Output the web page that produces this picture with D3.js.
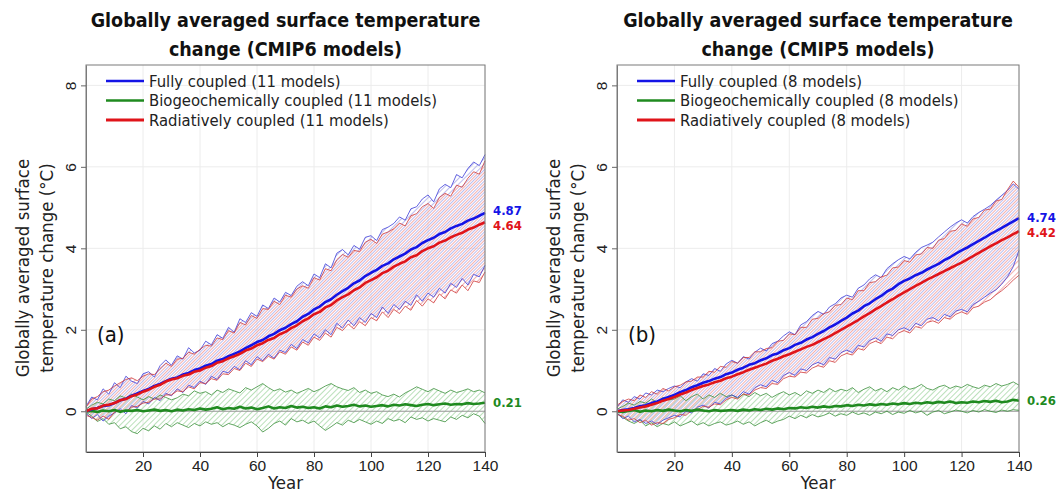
<!DOCTYPE html>
<html><head><meta charset="utf-8">
<script src="https://cdn.jsdelivr.net/npm/d3@7"></script>
<style>
body{margin:0;background:#fff;}
svg{display:block;font-family:"DejaVu Sans Condensed","DejaVu Sans",sans-serif;font-stretch:condensed;}
</style></head><body>
<svg id="c" width="1059" height="495"></svg>
<script>
// ---------------- DATA ----------------
const years = [0,2,4,6,8,10,12,14,16,18,20,22,24,26,28,30,32,34,36,38,40,42,44,46,48,50,52,54,56,58,60,62,64,66,68,70,72,74,76,78,80,82,84,86,88,90,92,94,96,98,100,102,104,106,108,110,112,114,116,118,120,122,124,126,128,130,132,134,136,138,140];
const xTicks = [20,40,60,80,100,120,140];
const yTicks = [0,2,4,6,8];
const seriesNames = ["Fully coupled","Biogeochemically coupled","Radiatively coupled"];
const modelCounts = [11, 8];
const panelTitles = [["Globally averaged surface temperature","change (CMIP6 models)"],["Globally averaged surface temperature","change (CMIP5 models)"]];
const panelTags = ["(a)","(b)"];

// CMIP6
const c6BlueMean = [0.00,0.05,0.08,0.13,0.15,0.20,0.27,0.31,0.38,0.44,0.50,0.55,0.62,0.67,0.74,0.80,0.83,0.90,0.94,1.01,1.05,1.12,1.16,1.24,1.28,1.35,1.41,1.47,1.55,1.62,1.70,1.75,1.84,1.90,1.99,2.05,2.14,2.21,2.32,2.39,2.50,2.57,2.68,2.75,2.86,2.95,3.03,3.14,3.21,3.32,3.40,3.47,3.57,3.63,3.73,3.80,3.87,3.97,4.03,4.13,4.20,4.26,4.35,4.40,4.49,4.55,4.60,4.68,4.73,4.80,4.87];
const c6BlueMax = [0.12,0.35,0.28,0.55,0.42,0.70,0.58,0.86,0.74,0.68,0.92,0.97,0.84,1.12,1.26,1.13,1.36,1.28,1.56,1.43,1.50,1.72,1.63,1.88,1.79,2.06,1.94,2.27,2.18,2.42,2.33,2.61,2.52,2.78,2.68,2.92,2.84,3.07,3.18,3.08,3.37,3.28,3.62,3.52,3.88,3.97,3.84,4.07,3.98,4.27,4.31,4.19,4.46,4.52,4.61,4.77,4.69,4.97,5.02,5.21,5.31,5.14,5.46,5.57,5.49,5.81,5.73,5.96,6.12,6.03,6.30];
const c6BlueMin = [-0.05,-0.18,-0.08,-0.24,-0.12,-0.04,0.06,-0.06,0.14,0.08,0.24,0.18,0.34,0.26,0.44,0.38,0.55,0.46,0.64,0.58,0.74,0.66,0.86,0.78,0.98,0.94,1.10,1.02,1.24,1.14,1.34,1.24,1.40,1.30,1.50,1.44,1.64,1.54,1.76,1.68,1.90,1.80,2.00,1.88,2.16,2.04,2.24,2.10,2.30,2.18,2.40,2.30,2.56,2.40,2.62,2.50,2.70,2.60,2.86,2.70,2.90,2.80,3.02,2.90,3.14,3.04,3.26,3.10,3.36,3.30,3.58];
const c6RedMean = [0.00,0.06,0.07,0.14,0.16,0.20,0.27,0.30,0.37,0.41,0.48,0.53,0.60,0.65,0.73,0.78,0.81,0.87,0.90,0.97,1.00,1.07,1.11,1.19,1.23,1.30,1.35,1.41,1.49,1.54,1.62,1.67,1.75,1.80,1.89,1.95,2.04,2.11,2.21,2.28,2.38,2.44,2.55,2.61,2.72,2.80,2.87,2.97,3.04,3.15,3.22,3.29,3.39,3.45,3.55,3.62,3.68,3.78,3.83,3.93,4.00,4.05,4.14,4.19,4.27,4.33,4.38,4.46,4.51,4.58,4.64];
const c6RedMax = [0.10,0.30,0.36,0.48,0.52,0.62,0.70,0.78,0.82,0.75,0.86,0.92,0.90,1.05,1.18,1.10,1.28,1.30,1.45,1.40,1.52,1.62,1.60,1.80,1.76,1.98,1.92,2.18,2.12,2.35,2.28,2.52,2.50,2.70,2.62,2.85,2.80,3.00,3.08,3.02,3.28,3.22,3.50,3.45,3.72,3.85,3.78,3.95,3.92,4.15,4.22,4.12,4.35,4.40,4.48,4.62,4.55,4.80,4.85,5.02,5.10,4.98,5.25,5.35,5.28,5.55,5.50,5.72,5.88,5.82,6.15];
const c6RedMin = [-0.10,-0.15,-0.22,-0.12,-0.20,-0.02,0.02,0.00,0.10,0.12,0.20,0.22,0.30,0.30,0.40,0.40,0.50,0.48,0.60,0.55,0.70,0.68,0.80,0.76,0.92,0.90,1.05,1.00,1.18,1.10,1.28,1.22,1.35,1.28,1.46,1.40,1.58,1.50,1.70,1.62,1.82,1.74,1.92,1.82,2.06,1.98,2.14,2.02,2.20,2.10,2.30,2.22,2.44,2.30,2.50,2.40,2.58,2.48,2.72,2.58,2.76,2.66,2.88,2.76,2.98,2.90,3.10,2.96,3.20,3.16,3.42];
const c6GreenMean = [0.00,0.01,-0.02,0.02,0.00,0.03,-0.01,0.02,0.01,0.03,0.00,0.02,0.04,0.01,0.03,0.00,0.04,0.02,0.05,0.03,0.07,0.04,0.06,0.10,0.05,0.08,0.06,0.11,0.07,0.09,0.05,0.08,0.12,0.07,0.10,0.08,0.13,0.09,0.11,0.08,0.10,0.07,0.12,0.10,0.14,0.11,0.13,0.16,0.12,0.14,0.11,0.13,0.15,0.12,0.16,0.14,0.17,0.15,0.13,0.16,0.18,0.15,0.17,0.19,0.16,0.18,0.17,0.20,0.18,0.19,0.21];
const c6GreenMax = [0.05,0.15,0.22,0.18,0.30,0.26,0.38,0.32,0.42,0.35,0.28,0.36,0.30,0.40,0.34,0.28,0.33,0.42,0.38,0.50,0.44,0.48,0.40,0.52,0.46,0.55,0.50,0.45,0.58,0.52,0.60,0.68,0.58,0.50,0.55,0.47,0.52,0.44,0.50,0.56,0.48,0.54,0.62,0.68,0.60,0.55,0.51,0.58,0.46,0.52,0.44,0.48,0.40,0.36,0.42,0.35,0.45,0.52,0.60,0.54,0.48,0.56,0.50,0.44,0.52,0.46,0.50,0.55,0.48,0.52,0.45];
const c6GreenMin = [-0.02,-0.12,-0.25,-0.18,-0.32,-0.28,-0.43,-0.38,-0.50,-0.55,-0.42,-0.48,-0.36,-0.44,-0.30,-0.38,-0.28,-0.34,-0.40,-0.30,-0.36,-0.26,-0.32,-0.28,-0.38,-0.30,-0.34,-0.40,-0.32,-0.26,-0.36,-0.51,-0.42,-0.30,-0.24,-0.34,-0.18,-0.26,-0.22,-0.30,-0.24,-0.36,-0.47,-0.38,-0.28,-0.34,-0.22,-0.28,-0.20,-0.26,-0.32,-0.24,-0.30,-0.18,-0.24,-0.20,-0.28,-0.14,-0.20,-0.16,-0.24,-0.18,-0.22,-0.26,-0.14,-0.20,-0.10,-0.16,-0.06,-0.12,-0.30];

// CMIP5
const c5BlueMean = [0.00,0.03,0.05,0.08,0.12,0.15,0.20,0.24,0.30,0.35,0.40,0.47,0.52,0.59,0.64,0.70,0.74,0.80,0.84,0.91,0.95,1.02,1.07,1.14,1.18,1.25,1.30,1.38,1.42,1.50,1.55,1.63,1.68,1.76,1.82,1.90,1.97,2.06,2.13,2.22,2.30,2.40,2.47,2.58,2.65,2.75,2.83,2.94,3.01,3.12,3.20,3.26,3.34,3.40,3.48,3.55,3.62,3.71,3.78,3.87,3.95,4.02,4.10,4.18,4.26,4.35,4.42,4.50,4.58,4.66,4.74];
const c5BlueMax = [0.10,0.28,0.22,0.36,0.30,0.45,0.40,0.52,0.48,0.56,0.62,0.58,0.72,0.80,0.74,0.92,0.88,1.05,0.98,1.16,1.25,1.18,1.34,1.28,1.45,1.55,1.48,1.66,1.72,1.85,1.95,1.88,2.12,2.20,2.35,2.45,2.38,2.56,2.64,2.78,2.85,2.80,3.02,3.10,3.25,3.35,3.28,3.50,3.62,3.72,3.80,3.74,3.90,4.02,4.08,4.15,4.28,4.40,4.52,4.62,4.70,4.62,4.78,4.88,4.96,5.05,5.18,5.30,5.42,5.58,5.45];
const c5BlueMin = [-0.05,-0.18,-0.12,-0.26,-0.20,-0.30,-0.24,-0.32,-0.22,-0.16,-0.10,-0.14,0.00,-0.04,0.10,0.15,0.08,0.22,0.18,0.32,0.40,0.34,0.48,0.42,0.58,0.65,0.60,0.76,0.70,0.88,0.95,0.88,1.04,1.00,1.14,1.20,1.14,1.32,1.28,1.44,1.50,1.44,1.62,1.58,1.74,1.80,1.72,1.90,1.86,2.00,2.05,1.98,2.16,2.10,2.26,2.30,2.22,2.38,2.32,2.46,2.50,2.44,2.62,2.70,2.80,2.90,2.98,3.12,3.30,3.55,3.95];
const c5RedMean = [0.00,0.02,0.03,0.06,0.09,0.12,0.16,0.20,0.26,0.30,0.35,0.41,0.46,0.52,0.57,0.62,0.66,0.71,0.75,0.81,0.85,0.91,0.96,1.02,1.07,1.12,1.17,1.24,1.29,1.35,1.40,1.46,1.52,1.58,1.63,1.70,1.77,1.84,1.92,2.00,2.08,2.16,2.24,2.33,2.41,2.50,2.58,2.67,2.75,2.84,2.92,3.00,3.08,3.15,3.23,3.30,3.37,3.44,3.51,3.58,3.65,3.73,3.81,3.89,3.97,4.05,4.12,4.20,4.27,4.35,4.42];
const c5RedMax = [0.15,0.24,0.30,0.26,0.40,0.34,0.48,0.42,0.56,0.50,0.60,0.64,0.72,0.74,0.84,0.84,0.98,0.96,1.10,1.08,1.22,1.18,1.32,1.32,1.46,1.46,1.54,1.56,1.72,1.74,1.90,1.88,2.06,2.06,2.26,2.28,2.40,2.44,2.60,2.62,2.78,2.74,2.96,2.96,3.16,3.18,3.30,3.34,3.52,3.54,3.70,3.66,3.84,3.86,4.02,4.00,4.20,4.24,4.42,4.44,4.60,4.54,4.72,4.76,4.94,4.96,5.16,5.20,5.44,5.65,5.50];
const c5RedMin = [-0.08,-0.12,-0.22,-0.18,-0.28,-0.22,-0.34,-0.28,-0.30,-0.20,-0.16,-0.08,-0.10,0.02,0.04,0.12,0.10,0.18,0.16,0.28,0.34,0.30,0.42,0.40,0.52,0.58,0.56,0.68,0.66,0.80,0.86,0.84,0.96,0.94,1.06,1.12,1.08,1.24,1.20,1.36,1.42,1.38,1.54,1.50,1.66,1.72,1.66,1.82,1.78,1.92,1.98,1.92,2.08,2.04,2.18,2.22,2.16,2.30,2.26,2.38,2.44,2.38,2.54,2.58,2.68,2.74,2.86,2.96,3.08,3.22,3.34];
const c5GreenMean = [0.00,-0.02,0.01,0.03,-0.01,0.02,0.00,0.03,0.01,0.04,0.02,0.00,0.03,0.01,0.04,0.02,0.00,0.03,0.01,0.02,0.03,0.01,0.04,0.02,0.05,0.03,0.06,0.04,0.07,0.05,0.08,0.07,0.10,0.08,0.11,0.09,0.12,0.10,0.13,0.12,0.15,0.13,0.16,0.14,0.17,0.15,0.18,0.16,0.19,0.17,0.20,0.18,0.21,0.19,0.22,0.20,0.23,0.21,0.24,0.20,0.22,0.21,0.24,0.22,0.25,0.23,0.26,0.22,0.24,0.28,0.26];
const c5GreenMax = [0.05,0.12,0.20,0.15,0.24,0.20,0.30,0.22,0.34,0.28,0.30,0.38,0.26,0.36,0.42,0.30,0.40,0.34,0.44,0.36,0.40,0.32,0.42,0.36,0.46,0.38,0.44,0.34,0.42,0.48,0.40,0.46,0.38,0.50,0.44,0.52,0.46,0.56,0.48,0.54,0.50,0.58,0.46,0.54,0.60,0.50,0.56,0.48,0.58,0.52,0.62,0.54,0.58,0.66,0.56,0.52,0.60,0.64,0.56,0.62,0.58,0.66,0.60,0.56,0.64,0.60,0.68,0.62,0.66,0.72,0.64];
const c5GreenMin = [-0.05,-0.15,-0.24,-0.30,-0.22,-0.36,-0.28,-0.38,-0.30,-0.34,-0.26,-0.36,-0.30,-0.24,-0.34,-0.28,-0.36,-0.30,-0.26,-0.34,-0.30,-0.24,-0.32,-0.26,-0.36,-0.28,-0.22,-0.30,-0.24,-0.20,-0.12,-0.18,-0.10,-0.16,-0.08,-0.14,-0.10,-0.04,-0.12,-0.06,-0.10,-0.02,-0.08,-0.04,-0.10,-0.02,-0.06,0.00,-0.08,-0.02,-0.05,0.02,-0.04,0.00,-0.10,-0.02,0.02,-0.06,-0.02,0.03,0.00,-0.04,0.02,-0.02,0.04,0.00,-0.03,0.03,0.00,0.04,0.02];

// ---------------- DRAWING ----------------
const svg = d3.select('#c');
const defs = svg.append('defs');
function hatch(id, color, off){
  const p = defs.append('pattern').attr('id',id).attr('patternUnits','userSpaceOnUse')
    .attr('width',4).attr('height',4).attr('patternTransform','rotate(45)');
  p.append('line').attr('x1',off).attr('y1',0).attr('x2',off).attr('y2',4)
    .attr('stroke',color).attr('stroke-width',0.9);
}
hatch('hB','#b4b4ec',2.5);
hatch('hR','#f2a6a6',0.5);
hatch('hG','#b2dcb2',1.5);

const colors = {
  blue:{mean:'#1414e6', env:'#3c3cd8', fill:'url(#hB)'},
  red:{mean:'#e0141a', env:'#cf3a3a', fill:'url(#hR)'},
  green:{mean:'#1f8a1f', env:'#3a8f3a', fill:'url(#hG)'}
};

const panels = [
  {x0:86, x1:485, title:panelTitles[0], tag:panelTags[0], n:modelCounts[0],
   blue:{mean:c6BlueMean,max:c6BlueMax,min:c6BlueMin},
   red:{mean:c6RedMean,max:c6RedMax,min:c6RedMin},
   green:{mean:c6GreenMean,max:c6GreenMax,min:c6GreenMin}},
  {x0:617, x1:1019, title:panelTitles[1], tag:panelTags[1], n:modelCounts[1],
   blue:{mean:c5BlueMean,max:c5BlueMax,min:c5BlueMin},
   red:{mean:c5RedMean,max:c5RedMax,min:c5RedMin},
   green:{mean:c5GreenMean,max:c5GreenMax,min:c5GreenMin}}
];

panels.forEach(P => {
  const x = d3.scaleLinear().domain([0,140]).range([P.x0,P.x1]);
  const y = d3.scaleLinear().domain([-1,8.5]).range([452,65]);
  const g = svg.append('g');
  const cx = (P.x0+P.x1)/2;

  // grid
  g.append('g').selectAll('line').data(xTicks).join('line')
    .attr('x1',d=>x(d)).attr('x2',d=>x(d)).attr('y1',65).attr('y2',452)
    .attr('stroke','#ececec').attr('stroke-width',1);
  g.append('g').selectAll('line').data(yTicks).join('line')
    .attr('x1',P.x0).attr('x2',P.x1).attr('y1',d=>y(d)).attr('y2',d=>y(d))
    .attr('stroke','#ececec').attr('stroke-width',1);

  // envelopes (fills)
  ['green','blue','red'].forEach(k => {
    const s = P[k];
    const area = d3.area().x((d,i)=>x(years[i])).y0((d,i)=>y(s.min[i])).y1(d=>y(d));
    g.append('path').datum(s.max).attr('d',area).attr('fill',colors[k].fill).attr('stroke','none');
  });

  // zero line
  g.append('line').attr('x1',P.x0).attr('x2',P.x1).attr('y1',y(0)).attr('y2',y(0))
    .attr('stroke','#9a9a9a').attr('stroke-width',1);

  const line = d3.line().x((d,i)=>x(years[i])).y(d=>y(d));
  // envelope lines
  ['green','blue','red'].forEach(k => {
    const s = P[k];
    [s.max, s.min].forEach(arr => {
      g.append('path').datum(arr).attr('d',line).attr('fill','none')
        .attr('stroke',colors[k].env).attr('stroke-width',0.8).attr('stroke-linejoin','round');
    });
  });
  // means
  ['green','blue','red'].forEach(k => {
    g.append('path').datum(P[k].mean).attr('d',line).attr('fill','none')
      .attr('stroke',colors[k].mean).attr('stroke-width',2.6).attr('stroke-linejoin','round');
  });

  // frame
  g.append('rect').attr('x',P.x0).attr('y',65).attr('width',P.x1-P.x0).attr('height',452-65)
    .attr('fill','none').attr('stroke','#7a7a7a').attr('stroke-width',1);

  // x axis
  const xa = g.append('g').attr('transform','translate(0,452)')
    .call(d3.axisBottom(x).tickValues(xTicks).tickSize(5).tickSizeOuter(0).tickFormat(d3.format('d')));
  xa.select('.domain').attr('stroke','#444');
  xa.selectAll('.tick line').attr('stroke','#444');
  xa.selectAll('.tick text').attr('font-size','15.5px').attr('fill','#222').attr('font-family',null).attr('dy','0.95em').attr('y',4);
  g.append('text').attr('x',cx).attr('y',489).attr('text-anchor','middle')
    .attr('font-size','18.5px').attr('fill','#222').text('Year');

  // y axis
  const ya = g.append('g').attr('transform',`translate(${P.x0},0)`)
    .call(d3.axisLeft(y).tickValues(yTicks).tickSize(5).tickSizeOuter(0).tickFormat(d3.format('d')));
  ya.select('.domain').attr('stroke','#7a7a7a');
  ya.selectAll('.tick line').attr('stroke','#666');
  ya.selectAll('.tick text').attr('font-size','15.5px').attr('fill','#222').attr('font-family',null)
    .attr('transform','rotate(-90)').attr('x',0).attr('y',-10).attr('dy',0).attr('text-anchor','middle');

  // y title
  const yt = g.append('text').attr('transform',`translate(${P.x0-63},268) rotate(-90)`)
    .attr('text-anchor','middle').attr('font-size','18.5px').attr('fill','#222');
  yt.append('tspan').attr('x',0).attr('y',6).text('Globally averaged surface');
  yt.append('tspan').attr('x',0).attr('y',30).text('temperature change (°C)');

  // title
  g.append('text').attr('x',cx).attr('y',27).attr('text-anchor','middle')
    .attr('font-size','19.5px').attr('font-weight','bold').attr('fill','#111').text(P.title[0]);
  g.append('text').attr('x',cx).attr('y',56).attr('text-anchor','middle')
    .attr('font-size','19.5px').attr('font-weight','bold').attr('fill','#111').text(P.title[1]);

  // legend
  const legKeys = ['blue','green','red'];
  const leg = g.append('g');
  legKeys.forEach((k,i) => {
    const ly = 81 + i*19.5;
    leg.append('line').attr('x1',P.x0+20).attr('x2',P.x0+58).attr('y1',ly).attr('y2',ly)
      .attr('stroke',colors[k].mean).attr('stroke-width', k==='red'?3:2.4);
    leg.append('text').attr('x',P.x0+63).attr('y',ly+5.5).attr('font-size','16.5px').attr('fill','#222')
      .text(`${seriesNames[i]} (${P.n} models)`);
  });

  // panel tag
  g.append('text').attr('x',P.x0+11).attr('y',342).attr('font-size','22px').attr('fill','#111').text(P.tag);

  // end labels
  const fmt = d3.format('.2f');
  const last = a => a[a.length-1];
  let yb = y(last(P.blue.mean)), yr = y(last(P.red.mean)), yg = y(last(P.green.mean));
  if (yr - yb < 15) { const m = (yb+yr)/2; yb = m-7.5; yr = m+7.5; }
  [['blue',yb],['red',yr],['green',yg]].forEach(([k,yy]) => {
    g.append('text').attr('x',P.x1+8).attr('y',yy).attr('dy','0.36em')
      .attr('font-size','13px').attr('font-weight','bold').attr('fill',colors[k].mean)
      .text(fmt(last(P[k].mean)));
  });
});
</script>
</body></html>
